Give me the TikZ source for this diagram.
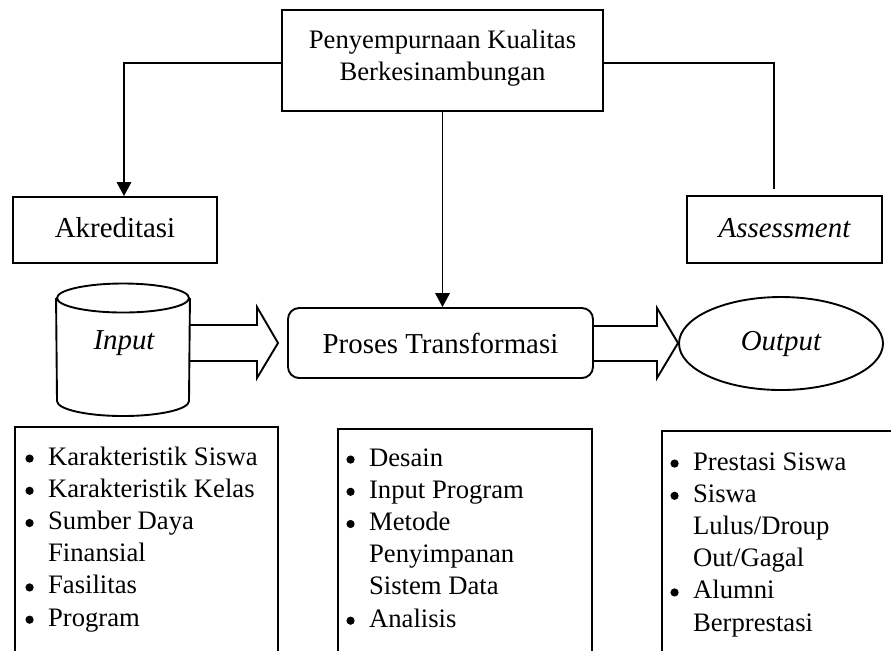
\documentclass[tikz,border=0pt]{standalone}
\usepackage{fontspec}
\setmainfont{Liberation Serif}
\usetikzlibrary{arrows.meta,calc,shapes.geometric}
\newcommand\pxu{0.45pt}
\newcommand\bul{\makebox[10.2pt][l]{\tikz[baseline=0pt,x=1pt,y=1pt]{\fill (2,2.9) circle[radius=1.85pt];}}}
\newcommand\nobul{\hspace*{10.2pt}}
\begin{document}
\begin{tikzpicture}[x=0.45pt,y=-0.45pt,
  line width=0.85pt,
  boxnode/.style={draw, rectangle, inner sep=0pt},
  txt/.style={inner sep=0pt, font=\fontsize{12}{14.5}\selectfont},
  bigtxt/.style={inner sep=0pt, font=\fontsize{13}{15.6}\selectfont},
  arr/.style={-{Triangle[length=6.3pt,width=6.5pt]}},
  blockarrow/.style={draw, line join=miter}]
\useasboundingbox (0,0) rectangle (891,650);
\clip (0,0) rectangle (891,650);

% top box
\node[boxnode, minimum width=321*\pxu, minimum height=101*\pxu] (top) at (442.5,60.5) {};
\node[txt, anchor=base] (top1) at (442.5,48) {Penyempurnaan Kualitas};
\node[txt, anchor=base] (top2) at (442.5,80) {Berkesinambungan};

% Akreditasi and Assessment
\node[boxnode, minimum width=204*\pxu, minimum height=66*\pxu] (akr) at (115,230) {};
\node[bigtxt, anchor=base] (akrt) at (115,237) {Akreditasi};
\node[boxnode, minimum width=195*\pxu, minimum height=67*\pxu] (ass) at (784.5,229.5) {};
\node[bigtxt, anchor=base] (asst) at (784.5,237) {\itshape Assessment};

% Input cylinder
\node[minimum width=132*\pxu, minimum height=132*\pxu, inner sep=0pt] (inp) at (123,350) {};
\draw (inp.west |- 0,298) -- (57,401) arc[start angle=180, end angle=0, x radius=66, y radius=15] -- (inp.east |- 0,298);
\draw (123,298) ellipse[x radius=66, y radius=14.5];
\node[bigtxt, anchor=base] (inpt) at (124,349) {\itshape Input};

% Proses Transformasi
\node[draw, rounded corners=5pt, minimum width=305*\pxu, minimum height=70*\pxu, bigtxt] (pro) at (440.5,343) {Proses Transformasi};

% Output
\node[draw, ellipse, minimum width=204*\pxu, minimum height=93*\pxu, inner sep=0pt, bigtxt] (out) at (781,343.5) {\itshape Output};

% block arrows
\draw[blockarrow] (inp.east |- 0,325) -- (257,325) -- (257,307) -- (278,343) -- (257,378) -- (257,361) -- (inp.east |- 0,361);
\draw[blockarrow] (pro.east |- 0,326) -- (657,326) -- (657,308) -- (678,343) -- (657,378) -- (657,361) -- (pro.east |- 0,361);

% connectors
\coordinate (la) at (124,63);
\draw[arr] (top.west |- la) -- (la) -- (la |- akr.north);
\coordinate (ra) at (774,63);
\coordinate (rend) at (774,189);
\draw (top.east |- ra) -- (ra) -- (rend);
\draw[arr] (top.south) -- (top.south |- pro.north);

% bottom frames
\draw (15,700) -- (15,427) -- (278,427) -- (278,700);
\draw (338,700) -- (338,429) -- (592,429) -- (592,700);
\draw (662,700) -- (662,431) -- (900,431);

% lists
\node[txt, anchor=base west] (l1) at (25,465) {\begin{tabular}[t]{@{}l@{}}\bul Karakteristik Siswa\\ \bul Karakteristik Kelas\\ \bul Sumber Daya\\ \nobul Finansial\\ \bul Fasilitas\\ \bul Program\end{tabular}};
\node[txt, anchor=base west] (l2) at (346,466) {\begin{tabular}[t]{@{}l@{}}\bul Desain\\ \bul Input Program\\ \bul Metode\\ \nobul Penyimpanan\\ \nobul Sistem Data\\ \bul Analisis\end{tabular}};
\node[txt, anchor=base west] (l3) at (670,470) {\begin{tabular}[t]{@{}l@{}}\bul Prestasi Siswa\\ \bul Siswa\\ \nobul Lulus/Droup\\ \nobul Out/Gagal\\ \bul Alumni\\ \nobul Berprestasi\end{tabular}};
\end{tikzpicture}
\end{document}
